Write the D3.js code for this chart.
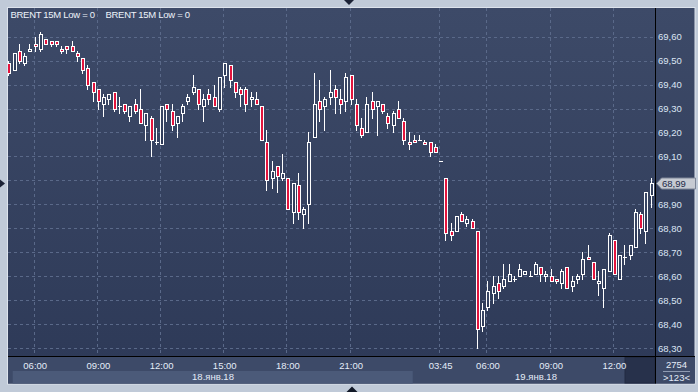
<!DOCTYPE html>
<html><head><meta charset="utf-8">
<script src="https://cdn.jsdelivr.net/npm/d3@7"></script>
<style>html,body{margin:0;padding:0;background:#c0cad8;overflow:hidden}svg{display:block}</style>
</head><body><svg id="c" width="698" height="392"></svg>
<script>
// ---- data ----
const openP  = [69.49,69.46,69.54,69.49,69.54,69.57,69.55,69.59,69.58,69.58,69.55,69.56,69.56,69.53,69.51,69.47,69.41,69.38,69.32,69.34,
69.37,69.31,69.32,69.27,69.32,69.30,69.23,69.26,69.16,69.15,69.32,69.29,69.24,69.28,69.33,69.37,69.38,69.31,69.36,69.35,
69.30,69.44,69.48,69.41,69.38,69.38,69.34,69.34,69.31,69.16,69.01,69.06,69.01,69.01,68.87,68.98,68.86,68.90,69.18,69.33,
69.31,69.35,69.38,69.34,69.33,69.44,69.32,69.22,69.20,69.33,69.31,69.32,69.27,69.23,69.30,69.25,69.16,69.17,69.17,69.16,
69.16,69.14,69.08,69.01,68.79,68.79,68.86,68.82,68.83,68.79,68.39,68.47,68.53,68.57,68.56,68.58,68.59,68.60,68.61,68.60,
68.61,68.64,68.60,68.60,68.59,68.57,68.64,68.56,68.59,68.61,68.68,68.66,68.57,68.55,68.62,68.75,68.59,68.68,68.69,68.72,
68.86,68.79,68.94];
const highP  = [69.50,69.53,69.57,69.53,69.57,69.60,69.62,69.59,69.58,69.58,69.56,69.56,69.58,69.54,69.51,69.48,69.41,69.38,69.36,69.36,
69.37,69.35,69.32,69.31,69.34,69.38,69.28,69.27,69.22,69.31,69.32,69.32,69.27,69.32,69.36,69.44,69.38,69.36,69.38,69.40,
69.43,69.49,69.48,69.41,69.39,69.39,69.37,69.37,69.31,69.21,69.08,69.06,69.11,69.01,68.99,69.03,68.89,69.20,69.45,69.42,
69.35,69.46,69.40,69.38,69.45,69.44,69.34,69.26,69.35,69.37,69.33,69.32,69.28,69.29,69.33,69.26,69.20,69.19,69.19,69.17,
69.16,69.15,69.08,69.01,68.82,68.85,68.87,68.85,68.84,68.79,68.49,68.58,68.60,68.60,68.65,68.65,68.60,68.65,68.62,68.62,
68.66,68.64,68.62,68.63,68.59,68.63,68.64,68.60,68.61,68.70,68.73,68.66,68.62,68.63,68.78,68.75,68.69,68.73,68.73,68.88,
68.87,68.95,69.01];
const lowP   = [69.44,69.46,69.49,69.48,69.54,69.54,69.54,69.57,69.56,69.56,69.53,69.53,69.54,69.50,69.45,69.38,69.33,69.30,69.27,69.32,
69.29,69.28,69.28,69.25,69.28,69.24,69.17,69.10,69.15,69.15,69.25,69.21,69.18,69.25,69.32,69.36,69.30,69.25,69.32,69.31,
69.29,69.39,69.39,69.35,69.31,69.29,69.31,69.32,69.17,68.96,68.97,68.95,69.00,68.88,68.82,68.84,68.80,68.82,69.18,69.25,
69.21,69.32,69.28,69.28,69.29,69.32,69.21,69.18,69.20,69.26,69.19,69.28,69.22,69.20,69.26,69.15,69.13,69.16,69.17,69.15,
69.10,69.12,69.08,68.75,68.75,68.79,68.83,68.81,68.80,68.30,68.37,68.46,68.49,68.51,68.55,68.58,68.58,68.60,68.61,68.60,
68.61,68.58,68.58,68.58,68.57,68.55,68.55,68.54,68.57,68.59,68.67,68.59,68.52,68.47,68.62,68.61,68.59,68.65,68.67,68.72,
68.78,68.74,68.89];
const closeP = [69.45,69.53,69.50,69.52,69.55,69.56,69.61,69.57,69.57,69.57,69.54,69.55,69.54,69.52,69.46,69.40,69.37,69.33,69.35,69.36,
69.30,69.31,69.29,69.31,69.29,69.24,69.28,69.17,69.16,69.31,69.30,69.23,69.27,69.31,69.35,69.39,69.32,69.34,69.34,69.31,
69.43,69.49,69.42,69.37,69.36,69.32,69.35,69.32,69.17,69.00,69.04,69.02,69.03,68.88,68.99,68.87,68.88,69.16,69.32,69.30,
69.34,69.37,69.35,69.32,69.43,69.34,69.23,69.19,69.32,69.30,69.33,69.29,69.24,69.28,69.26,69.17,69.15,69.16,69.17,69.15,
69.12,69.12,69.08,68.78,68.77,68.85,68.83,68.84,68.80,68.38,68.46,68.54,68.56,68.54,68.59,68.61,68.59,68.63,68.62,68.60,
68.65,68.61,68.61,68.58,68.58,68.62,68.55,68.58,68.60,68.67,68.67,68.59,68.58,68.63,68.77,68.61,68.69,68.68,68.73,68.87,
68.80,68.95,68.99];
const timeTickIdx    = [5,17,29,41,53,65,82,91,103,115];
const timeTickLabels = ["06:00","09:00","12:00","15:00","18:00","21:00","03:45","06:00","09:00","12:00"];
const dateLabels     = ["18.янв.18","19.янв.18"];
const priceTicks     = [69.60,69.50,69.40,69.30,69.20,69.10,69.00,68.90,68.80,68.70,68.60,68.50,68.40,68.30];
const legendTexts    = ["BRENT 15M Low = 0","BRENT 15M Low = 0"];
const lastPrice      = 68.99;
const totalBarsLabel = "2754";
const visibleBarsLabel = ">123<";

// ---- layout ----
const P={l:8,t:8,r:655,b:356,outerR:695,outerB:383.5};
const FONT='"Liberation Sans", Arial, sans-serif';
const svg=d3.select('#c');
const fmt=v=>v.toFixed(2).replace('.',',');

const bars=openP.map((o,i)=>({i,o,h:highP[i],l:lowP[i],c:closeP[i]}));
const x=d3.scaleLinear().domain([0,bars.length-1]).range([8.4,650.7]);
const y=d3.scaleLinear().domain([68.30,69.60]).range([348,36.7]);

const defs=svg.append('defs');
const g=defs.append('linearGradient').attr('id','bg').attr('x1',0).attr('y1',0).attr('x2',0).attr('y2',1);
g.append('stop').attr('offset','0%').attr('stop-color','#3d4a68');
g.append('stop').attr('offset','100%').attr('stop-color','#2d3957');
defs.append('clipPath').attr('id','clip').append('rect').attr('x',P.l).attr('y',P.t).attr('width',P.r-P.l).attr('height',P.b-P.t);

// panel
svg.append('rect').attr('x',7.5).attr('y',7.5).attr('width',P.outerR-7.5).attr('height',P.outerB-7.5+0.5)
  .attr('fill','url(#bg)').attr('stroke','#dde3ec');
// bottom axis strip
svg.append('rect').attr('x',P.l).attr('y',P.b+1).attr('width',P.outerR-P.l).attr('height',P.outerB-P.b-1).attr('fill','#3d4a68');
svg.append('rect').attr('x',12.7).attr('y',371).attr('width',400).attr('height',12.5).attr('fill','#4b5a79');
svg.append('rect').attr('x',625).attr('y',357.5).attr('width',30).attr('height',25.5).attr('fill','#27314b').attr('stroke','#222b42');

// grid
const grid=svg.append('g').attr('stroke','#5a6989').attr('stroke-dasharray','3,3').attr('shape-rendering','crispEdges');
grid.selectAll('.h').data(priceTicks).join('line').attr('x1',P.l).attr('x2',P.r)
  .attr('y1',d=>Math.round(y(d))+0.5).attr('y2',d=>Math.round(y(d))+0.5);
grid.selectAll('.v').data(timeTickIdx).join('line').attr('y1',P.t).attr('y2',P.b)
  .attr('x1',d=>Math.round(x(d))-0.5).attr('x2',d=>Math.round(x(d))-0.5);

// candles
const cg=svg.append('g').attr('clip-path','url(#clip)').attr('shape-rendering','crispEdges');
const cs=cg.selectAll('g').data(bars).join('g');
cs.append('line').attr('stroke','#ffffff')
  .attr('x1',d=>Math.round(x(d.i))+0.5).attr('x2',d=>Math.round(x(d.i))+0.5)
  .attr('y1',d=>Math.round(y(d.h))).attr('y2',d=>Math.round(y(d.l))+1);
cs.filter(d=>Math.abs(d.o-d.c)>0.001).append('rect')
  .attr('x',d=>Math.round(x(d.i))-0.5).attr('width',3)
  .attr('y',d=>Math.round(y(Math.max(d.o,d.c)))+0.5)
  .attr('height',d=>Math.max(1,Math.round(y(Math.min(d.o,d.c)))-Math.round(y(Math.max(d.o,d.c)))))
  .attr('fill',d=>d.c<d.o?'#e3143d':'url(#bg)')
  .attr('stroke','#ffffff');
cs.filter(d=>Math.abs(d.o-d.c)<=0.001).append('line').attr('stroke','#ffffff')
  .attr('x1',d=>Math.round(x(d.i))-1).attr('x2',d=>Math.round(x(d.i))+3)
  .attr('y1',d=>Math.round(y(d.o))+0.5).attr('y2',d=>Math.round(y(d.o))+0.5);

// separators
svg.append('line').attr('x1',655.5).attr('x2',655.5).attr('y1',P.t).attr('y2',P.outerB).attr('stroke','#000');
svg.append('line').attr('x1',P.l).attr('x2',P.outerR).attr('y1',356.5).attr('y2',356.5).attr('stroke','#000');

// right price axis (labels hidden under the last-price tag are not shown, as in the reference)
const ly=Math.round(y(lastPrice))+0.5;
const labelTicks=priceTicks.filter(v=>Math.abs(y(v)-ly)>9);
const ya=svg.append('g').attr('transform',`translate(${P.r},0)`)
  .call(d3.axisRight(y).tickValues(labelTicks).tickFormat(fmt).tickSize(0).tickPadding(3));
ya.select('.domain').remove();
ya.selectAll('text').attr('font-family',FONT).attr('font-size','9.5px').attr('fill','#dbe5f4');

// bottom time axis
const xa=svg.append('g').attr('transform',`translate(0,${P.b})`)
  .call(d3.axisBottom(x).tickValues(timeTickIdx).tickFormat((d,i)=>timeTickLabels[i]).tickSize(0).tickPadding(6.5));
xa.select('.domain').remove();
xa.selectAll('text').attr('font-family',FONT).attr('font-size','9.5px').attr('fill','#e4ecf8');

// date labels
svg.selectAll('.date').data(dateLabels).join('text')
  .attr('x',(d,i)=>i===0?213:536).attr('y',380)
  .attr('text-anchor','middle').attr('font-family',FONT).attr('font-size','9.5px').attr('fill','#e4ecf8').text(d=>d);

// legend
svg.selectAll('.leg').data(legendTexts).join('text')
  .attr('x',(d,i)=>i===0?10.5:105.5).attr('y',18.3)
  .attr('font-family',FONT).attr('font-size','9.5px').attr('letter-spacing','-0.3px').attr('fill','#eef3fa').text(d=>d);

// bars count cell
svg.append('text').attr('x',676.5).attr('y',367.5).attr('text-anchor','middle').attr('font-family',FONT).attr('font-size','9.5px').attr('fill','#e4ecf8').text(totalBarsLabel);
svg.append('line').attr('x1',663).attr('x2',690).attr('y1',371.5).attr('y2',371.5).attr('stroke','#8f9bb2');
svg.append('text').attr('x',676.5).attr('y',380.7).attr('text-anchor','middle').attr('font-family',FONT).attr('font-size','9.5px').attr('fill','#e4ecf8').text(visibleBarsLabel);

// last price tag
svg.append('path').attr('d',`M656.5,${ly} L661.5,${ly-5.5} L695.5,${ly-5.5} L695.5,${ly+5.5} L661.5,${ly+5.5} Z`)
  .attr('fill','#c6cad2').attr('stroke','#7c8597');
svg.append('text').attr('x',662).attr('y',ly+3.5).attr('font-family',FONT).attr('font-size','9.5px').attr('fill','#1d2946').text(fmt(lastPrice));

// frame markers
svg.append('path').attr('d','M344,0 L354,0 L349,5 Z').attr('fill','#1b2236');
svg.append('path').attr('d','M346.5,392 L357.5,392 L352,386.5 Z').attr('fill','#111827');
svg.append('path').attr('d',`M0,${ly-4} L0,${ly+4} L5,${ly} Z`).attr('fill','#1b2236');
</script></body></html>
